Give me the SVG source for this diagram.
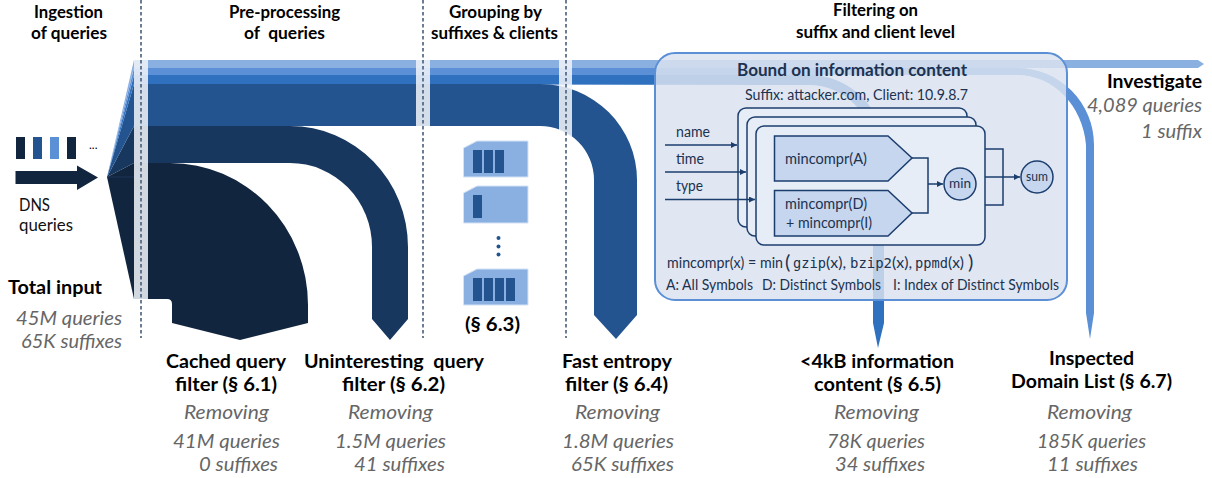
<svg xmlns="http://www.w3.org/2000/svg" width="1212" height="478" viewBox="0 0 1212 478">
<style>
text{font-family:"Lato","Liberation Sans",sans-serif;fill:#000}
.h{font-size:16.5px;font-weight:700}
.t{font-size:19.5px;font-weight:700}
.i{font-size:19.5px;font-style:italic;fill:#666}
.b{font-size:14.5px;fill:#1c3250}
.m{font-family:"DejaVu Sans Mono","Liberation Mono",monospace;font-size:13.5px;fill:#1c3250}
.c1{fill:#8ab0e2}.c2{fill:#5b8fd6}.c3{fill:#2f70bf}.c4{fill:#24548f}.c5{fill:#18375f}.c6{fill:#12253f}
.bar{fill:#f0f3f8;fill-opacity:.865}
.dash{stroke:#3d5474;stroke-width:1.5;stroke-dasharray:3.5 2.5;fill:none}
.card{fill:#e7edf6;stroke:#1c3e6e;stroke-width:1.5}
.pent{fill:#c5d6ee;stroke:#1c3e6e;stroke-width:1.5}
.ln{fill:none;stroke:#1c3e6e;stroke-width:1.5}
.pk{fill:#8ab0e2;stroke:#d3e2f5;stroke-width:1}
</style>
<defs>
<marker id="ah" markerWidth="8" markerHeight="8" refX="6" refY="3" orient="auto" markerUnits="userSpaceOnUse"><path d="M0 0L6 3L0 6Z" fill="#1c3e6e"/></marker>
</defs>
<g id="connectors">
<g id="fan">
<path class="c6" d="M107 177L134 163V299Z"/>
<path class="c5" d="M107 177L134 126V163Z"/>
<path class="c4" d="M107 177L134 84V126Z"/>
<path class="c3" d="M107 177L134 75V84Z"/>
<path class="c2" d="M107 177L134 68V75Z"/>
<path class="c1" d="M107 177L134 60V68Z"/>
<path d="M107 177H134" stroke="#1d3559" stroke-width="1" fill="none"/>
</g>
<path id="flow-investigate" class="c1" d="M134 60H1198L1204 64L1198 68H134Z"/>
<path id="flow-inspected" class="c2" d="M134 68H1017A77 77 0 0 1 1094 145V313L1090 339L1086 313V145A69 77 0 0 0 1017 75H134Z"/>
<path id="flow-info" class="c3" d="M134 75H809A75 75 0 0 1 884 150V323L878 348L873 323V150A64 65 0 0 0 809 85L134 84Z"/>
<path id="flow-entropy" class="c4" d="M134 84H540A97 96 0 0 1 637 180V315L616 339L594 315V180A54 54 0 0 0 540 126H134Z"/>
<path id="flow-uninteresting" class="c5" d="M134 126H290A118 121 0 0 1 408 247V319L390 340L372 319V247A82 84 0 0 0 290 163H134Z"/>
<path id="flow-cached" class="c6" d="M134 163H170A138 142 0 0 1 308 305V323L240 340L172 323V304Q172 299 167 299H134Z"/>
<path class="bar" d="M134 60H148V299H134Z"/>
<path class="bar" d="M416 60H430V126H416Z"/>
<path class="bar" d="M559 60H572V137L559 130Z"/>
</g>
<g id="dividers">
<path class="dash" d="M141 0V338"/>
<path class="dash" d="M423 0V338"/>
<path class="dash" d="M566 0V338"/>
</g>
<g id="dns-input">
<rect class="c6" x="16" y="137" width="9" height="22"/>
<rect class="c4" x="33" y="137" width="9" height="22"/>
<rect class="c2" x="50" y="137" width="9" height="22"/>
<rect class="c6" x="67" y="137" width="9" height="22"/>
<text x="89" y="149" style="font-size:12px">...</text>
<path class="c6" d="M15.500 171H77V165.500L98 177.500L77 190V184H15.500Z"/>
<text class="b" style="font-size:16.500px;fill:#111" x="19" y="211" textLength="31" lengthAdjust="spacingAndGlyphs">DNS</text>
<text class="b" style="font-size:16.500px;fill:#111" x="19" y="231" textLength="54" lengthAdjust="spacingAndGlyphs">queries</text>
</g>
<g id="suffix-groups">
<path class="pk" d="M463.500 148L477 141H528V177H463.500Z"/>
<rect class="c4" x="473" y="150" width="9" height="23"/><rect class="c4" x="484" y="150" width="9" height="23"/><rect class="c4" x="495" y="150" width="9" height="23"/>
<path class="pk" d="M463.500 193L477 186H528V223H463.500Z"/>
<rect class="c4" x="473" y="195" width="9" height="23"/>
<circle class="c4" cx="498.500" cy="238" r="2"/><circle class="c4" cx="498.500" cy="246.500" r="2"/><circle class="c4" cx="498.500" cy="254.500" r="2"/>
<path class="pk" d="M463.500 276L477 269H528V305H463.500Z"/>
<rect class="c4" x="473" y="278" width="9" height="23"/><rect class="c4" x="484" y="278" width="9" height="23"/><rect class="c4" x="495" y="278" width="9" height="23"/><rect class="c4" x="506" y="278" width="9" height="23"/>
<text class="t" x="465" y="331" textLength="55" lengthAdjust="spacingAndGlyphs">(§ 6.3)</text>
</g>
<g id="bound-box">
<rect x="655" y="53" width="412" height="247" rx="20" fill="#dae2f0" fill-opacity=".84" stroke="#5b8fd6" stroke-width="2"/>
<text class="b" style="font-size:16.500px;font-weight:700" x="737" y="76" textLength="230" lengthAdjust="spacingAndGlyphs">Bound on information content</text>
<text class="b" x="745" y="100" textLength="223" lengthAdjust="spacingAndGlyphs">Suffix: attacker.com, Client: 10.9.8.7</text>
<rect class="card" x="738" y="108" width="229" height="119" rx="8"/>
<rect class="card" x="747" y="117" width="229" height="119" rx="8"/>
<rect class="card" x="756" y="126" width="229" height="119" rx="8"/>
<path class="pent" d="M774.500 136H888L912 158L888 181H774.500Z"/>
<path class="pent" d="M774.500 190.500H888L912 213L888 236H774.500Z"/>
<text class="b" x="785" y="164" textLength="82" lengthAdjust="spacingAndGlyphs">mincompr(A)</text>
<text class="b" x="785" y="209" textLength="82" lengthAdjust="spacingAndGlyphs">mincompr(D)</text>
<text class="b" x="786" y="228" textLength="86" lengthAdjust="spacingAndGlyphs">+ mincompr(I)</text>
<path class="ln" d="M912 158H928V213H912"/>
<path class="ln" d="M928 184H943" marker-end="url(#ah)"/>
<circle class="pent" cx="960" cy="184" r="16"/>
<text class="b" x="949" y="188" textLength="22" lengthAdjust="spacingAndGlyphs" style="font-size:13px">min</text>
<path class="ln" d="M985 149H1003V205H985"/>
<path class="ln" d="M985 177H1020" marker-end="url(#ah)"/>
<circle class="pent" cx="1037" cy="177" r="16"/>
<text class="b" x="1026" y="181" textLength="22" lengthAdjust="spacingAndGlyphs" style="font-size:13px">sum</text>
<path class="ln" d="M665 145H737" marker-end="url(#ah)"/>
<path class="ln" d="M665 172H746" marker-end="url(#ah)"/>
<path class="ln" d="M665 199.500H755" marker-end="url(#ah)"/>
<text class="b" x="676" y="137" textLength="34" lengthAdjust="spacingAndGlyphs">name</text>
<text class="b" x="676" y="164" textLength="28" lengthAdjust="spacingAndGlyphs">time</text>
<text class="b" x="676" y="191" textLength="27" lengthAdjust="spacingAndGlyphs">type</text>
<text class="b" x="667" y="268" textLength="116" lengthAdjust="spacingAndGlyphs">mincompr(x) = min</text>
<text class="b" x="785" y="269" style="font-size:20px">(</text>
<text class="m" x="793" y="268" textLength="33" lengthAdjust="spacingAndGlyphs">gzip</text>
<text class="b" x="826" y="268" textLength="20" lengthAdjust="spacingAndGlyphs">(x),</text>
<text class="m" x="850" y="268" textLength="42" lengthAdjust="spacingAndGlyphs">bzip2</text>
<text class="b" x="892" y="268" textLength="20" lengthAdjust="spacingAndGlyphs">(x),</text>
<text class="m" x="915" y="268" textLength="33" lengthAdjust="spacingAndGlyphs">ppmd</text>
<text class="b" x="948" y="268" textLength="16" lengthAdjust="spacingAndGlyphs">(x)</text>
<text class="b" x="968" y="269" style="font-size:20px">)</text>
<text class="b" x="666" y="290" textLength="87" lengthAdjust="spacingAndGlyphs">A: All Symbols</text>
<text class="b" x="762" y="290" textLength="119" lengthAdjust="spacingAndGlyphs">D: Distinct Symbols</text>
<text class="b" x="893" y="290" textLength="166" lengthAdjust="spacingAndGlyphs">I: Index of Distinct Symbols</text>
</g>
<g id="stage-headers">
<text class="h" x="34" y="18" textLength="69" lengthAdjust="spacingAndGlyphs">Ingestion</text>
<text class="h" x="31" y="39" textLength="76" lengthAdjust="spacingAndGlyphs">of queries</text>
<text class="h" x="229" y="18" textLength="111" lengthAdjust="spacingAndGlyphs">Pre-processing</text>
<text class="h" x="244" y="39" textLength="81" lengthAdjust="spacingAndGlyphs" xml:space="preserve">of  queries</text>
<text class="h" x="449" y="18" textLength="93" lengthAdjust="spacingAndGlyphs">Grouping by</text>
<text class="h" x="431" y="39" textLength="127" lengthAdjust="spacingAndGlyphs">suffixes &amp; clients</text>
<text class="h" x="833" y="16" textLength="85" lengthAdjust="spacingAndGlyphs">Filtering on</text>
<text class="h" x="796" y="38" textLength="159" lengthAdjust="spacingAndGlyphs">suffix and client level</text>
</g>
<g id="total-input">
<text class="t" x="8" y="294" textLength="94" lengthAdjust="spacingAndGlyphs">Total input</text>
<text class="i" x="16" y="325" textLength="106" lengthAdjust="spacingAndGlyphs">45M queries</text>
<text class="i" x="21" y="348" textLength="101" lengthAdjust="spacingAndGlyphs">65K suffixes</text>
</g>
<g id="cached-filter">
<text class="t" x="166" y="368" textLength="120" lengthAdjust="spacingAndGlyphs">Cached query</text>
<text class="t" x="175" y="391" textLength="102" lengthAdjust="spacingAndGlyphs">filter (§ 6.1)</text>
<text class="i" x="184" y="419" textLength="85" lengthAdjust="spacingAndGlyphs">Removing</text>
<text class="i" x="173" y="448" textLength="107" lengthAdjust="spacingAndGlyphs">41M queries</text>
<text class="i" x="199" y="471" textLength="79" lengthAdjust="spacingAndGlyphs">0 suffixes</text>
</g>
<g id="uninteresting-filter">
<text class="t" x="304" y="368" textLength="180" lengthAdjust="spacingAndGlyphs" xml:space="preserve">Uninteresting  query</text>
<text class="t" x="342" y="391" textLength="103" lengthAdjust="spacingAndGlyphs">filter (§ 6.2)</text>
<text class="i" x="348" y="419" textLength="85" lengthAdjust="spacingAndGlyphs">Removing</text>
<text class="i" x="335" y="448" textLength="111" lengthAdjust="spacingAndGlyphs">1.5M queries</text>
<text class="i" x="354" y="471" textLength="91" lengthAdjust="spacingAndGlyphs">41 suffixes</text>
</g>
<g id="entropy-filter">
<text class="t" x="562" y="368" textLength="110" lengthAdjust="spacingAndGlyphs">Fast entropy</text>
<text class="t" x="565" y="391" textLength="103" lengthAdjust="spacingAndGlyphs">filter (§ 6.4)</text>
<text class="i" x="575" y="419" textLength="85" lengthAdjust="spacingAndGlyphs">Removing</text>
<text class="i" x="562" y="448" textLength="112" lengthAdjust="spacingAndGlyphs">1.8M queries</text>
<text class="i" x="571" y="471" textLength="103" lengthAdjust="spacingAndGlyphs">65K suffixes</text>
</g>
<g id="info-filter">
<text class="t" x="800" y="368" textLength="154" lengthAdjust="spacingAndGlyphs">&lt;4kB information</text>
<text class="t" x="814" y="391" textLength="127" lengthAdjust="spacingAndGlyphs">content (§ 6.5)</text>
<text class="i" x="834" y="419" textLength="85" lengthAdjust="spacingAndGlyphs">Removing</text>
<text class="i" x="827" y="448" textLength="98" lengthAdjust="spacingAndGlyphs">78K queries</text>
<text class="i" x="835" y="471" textLength="90" lengthAdjust="spacingAndGlyphs">34 suffixes</text>
</g>
<g id="inspected-list">
<text class="t" x="1049" y="365" textLength="85" lengthAdjust="spacingAndGlyphs">Inspected</text>
<text class="t" x="1011" y="388" textLength="161" lengthAdjust="spacingAndGlyphs">Domain List (§ 6.7)</text>
<text class="i" x="1047" y="419" textLength="85" lengthAdjust="spacingAndGlyphs">Removing</text>
<text class="i" x="1037" y="448" textLength="109" lengthAdjust="spacingAndGlyphs">185K queries</text>
<text class="i" x="1047" y="471" textLength="91" lengthAdjust="spacingAndGlyphs">11 suffixes</text>
</g>
<g id="investigate">
<text class="t" x="1107" y="88" textLength="95" lengthAdjust="spacingAndGlyphs">Investigate</text>
<text class="i" x="1087" y="112" textLength="115" lengthAdjust="spacingAndGlyphs">4,089 queries</text>
<text class="i" x="1141" y="138" textLength="61" lengthAdjust="spacingAndGlyphs">1 suffix</text>
</g>
</svg>
